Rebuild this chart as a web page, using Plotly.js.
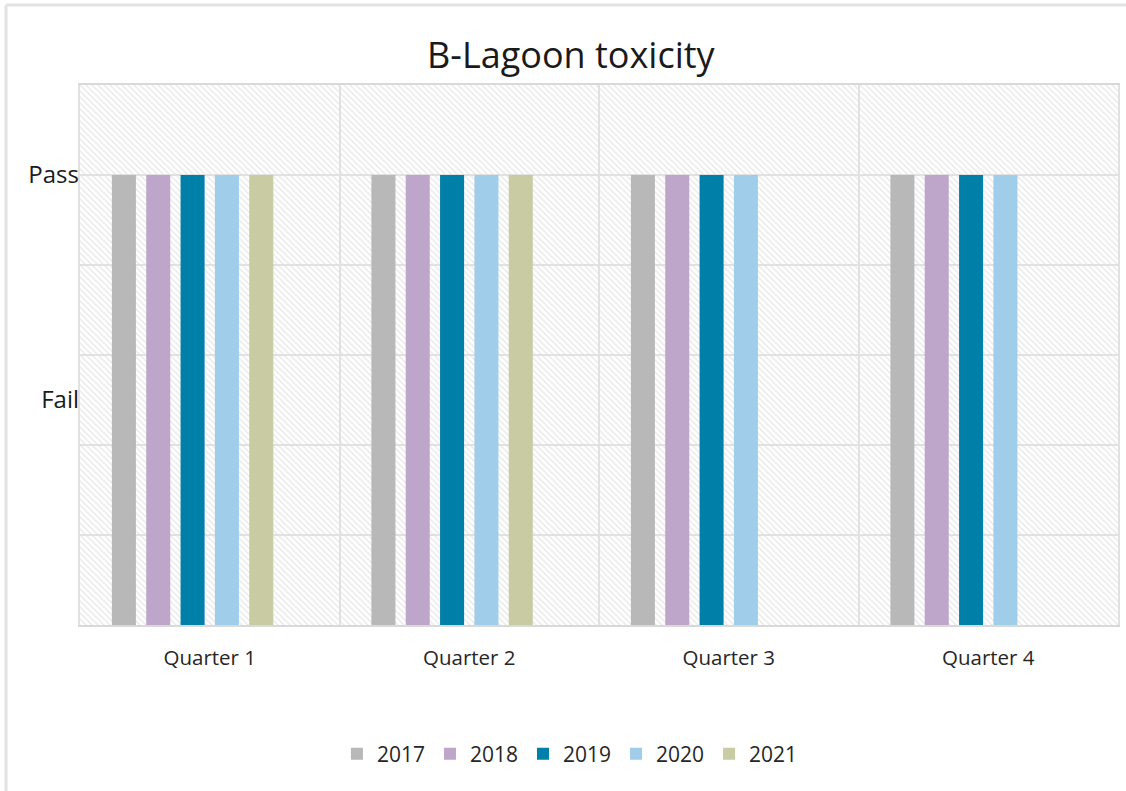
<!DOCTYPE html>
<html>
<head>
<meta charset="utf-8">
<script src="https://cdn.plot.ly/plotly-3.0.1.min.js"></script>
<style>html,body{margin:0;padding:0;background:#fff;}#chart{width:1126px;height:791px;}</style>
</head>
<body>
<div id="chart"></div>
<script>
// Data
const quarters = ["Quarter 1", "Quarter 2", "Quarter 3", "Quarter 4"];
const years = ["2017", "2018", "2019", "2020", "2021"];
// 5 = Pass level; null = no result
const y2017 = [5, 5, 5, 5];
const y2018 = [5, 5, 5, 5];
const y2019 = [5, 5, 5, 5];
const y2020 = [5, 5, 5, 5];
const y2021 = [5, 5, null, null];
const emptySlot = [null, null, null, null];
const yTickVals = [2.5, 5];
const yTickText = ["Fail", "Pass"];

const colors = ["#b8b8b8", "#bea6ca", "#0080a8", "#a0cdea", "#c9cba3"];
const series = [y2017, y2018, y2019, y2020, y2021];

const traces = series.map((vals, i) => ({
  type: "bar",
  name: years[i],
  x: quarters,
  y: vals,
  marker: {color: colors[i]},
  hoverinfo: "x+name"
}));
traces.push({type: "bar", name: "", x: quarters, y: emptySlot, showlegend: false, hoverinfo: "skip", marker: {color: "rgba(0,0,0,0)"}});

const hatch = '<svg xmlns="http://www.w3.org/2000/svg" width="1038" height="540" viewBox="0 0 1038 540" preserveAspectRatio="none">' +
  '<defs><pattern id="p" width="6" height="6" patternUnits="userSpaceOnUse">' +
  '<rect width="6" height="6" fill="#ffffff"/>' +
  '<path d="M-1,-1 L7,7 M-1,5 L1,7 M5,-1 L7,1" stroke="#ebebeb" stroke-width="1.5"/>' +
  '</pattern></defs><rect width="1038" height="540" fill="url(#p)"/></svg>';
const hatchUri = "data:image/svg+xml;charset=utf-8," + encodeURIComponent(hatch);

const font = "Open Sans, Noto Sans, Liberation Sans, sans-serif";

const layout = {
  width: 1126, height: 791,
  margin: {l: 80, r: 8, t: 85, b: 166},
  paper_bgcolor: "#ffffff",
  plot_bgcolor: "rgba(0,0,0,0)",
  font: {family: font, color: "#262626"},
  title: {text: "B-Lagoon toxicity", font: {size: 36, color: "#1a1a1a", family: font},
          x: 0.507, xref: "container", xanchor: "center", y: 0.93, yref: "container", yanchor: "middle"},
  barmode: "group",
  bargap: 0.206,
  bargroupgap: 0.3,
  showlegend: true,
  legend: {orientation: "h", x: 0.472, xanchor: "center", y: -0.239, yanchor: "middle",
           font: {size: 21, color: "#262626"}, traceorder: "normal", itemwidth: 30},
  xaxis: {
    type: "category",
    tickson: "boundaries",
    showgrid: true, gridcolor: "#e1e1e1", gridwidth: 2,
    showline: true, linecolor: "#d9d9d9", linewidth: 2, mirror: true,
    ticks: "", tickfont: {size: 20.5, color: "#262626"},
    ticklabelstandoff: 13,
    fixedrange: true
  },
  yaxis: {
    range: [0, 6], dtick: 1, tick0: 0,
    showgrid: true, gridcolor: "#e1e1e1", gridwidth: 2,
    showline: true, linecolor: "#e1e1e1", linewidth: 2, mirror: true,
    showticklabels: false, ticks: "", zeroline: false, fixedrange: true
  },
  yaxis2: {
    overlaying: "y", side: "left", anchor: "x",
    range: [0, 6], tickmode: "array", tickvals: yTickVals, ticktext: yTickText,
    showgrid: false, zeroline: false, showline: false, ticks: "",
    tickfont: {size: 24, color: "#1a1a1a"}, ticklabelstandoff: 0, fixedrange: true
  },
  images: [{source: hatchUri, xref: "paper", yref: "paper", x: 0, y: 1, sizex: 1, sizey: 1,
            xanchor: "left", yanchor: "top", sizing: "stretch", layer: "below"}],
  shapes: [
    {type: "line", xref: "paper", yref: "paper", x0: -0.0713, x1: 1.02, y0: 1.148, y1: 1.148, line: {color: "#e3e3e3", width: 3}},
    {type: "line", xref: "paper", yref: "paper", x0: -0.0713, x1: -0.0713, y0: 1.148, y1: -0.33, line: {color: "#e3e3e3", width: 3}}
  ]
};

// dummy trace to activate yaxis2 labels
traces.push({type: "scatter", x: [quarters[0]], y: [null], yaxis: "y2", showlegend: false, hoverinfo: "skip", mode: "markers"});

Plotly.newPlot("chart", traces, layout, {displayModeBar: false, staticPlot: true});
</script>
</body>
</html>
